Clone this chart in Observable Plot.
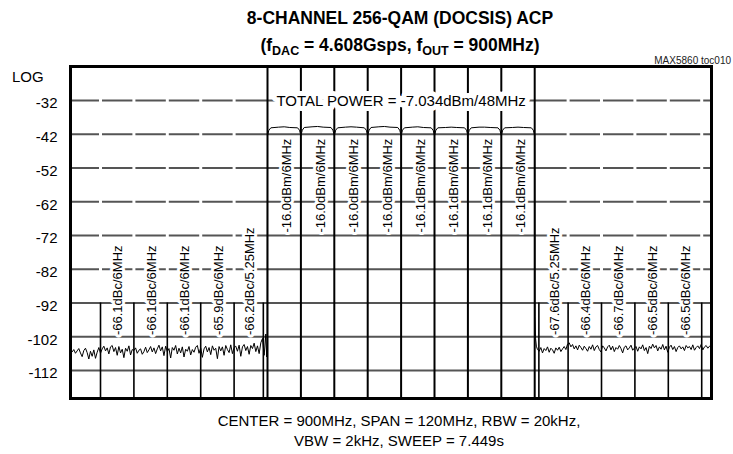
<!DOCTYPE html>
<html><head><meta charset="utf-8">
<script src="https://cdn.jsdelivr.net/npm/d3@7"></script>
<script src="https://cdn.jsdelivr.net/npm/@observablehq/plot@0.6"></script>
<style>
body{margin:0;background:#fff;font-family:"Liberation Sans",Arial,sans-serif;color:#000;}
#wrap{position:relative;width:733px;height:454px;overflow:hidden;}
#wrap svg{position:absolute;left:0;top:0;}
.abs{position:absolute;white-space:nowrap;}
.title{left:0;width:800px;text-align:center;font-weight:bold;font-size:17.5px;line-height:22px;}
.title sub{font-size:12.5px;vertical-align:-4px;line-height:0;}
.cap{left:0;width:798px;text-align:center;font-size:15px;line-height:20px;}
</style></head><body>
<div id="wrap">
  <div class="abs title" style="top:7px">8-CHANNEL 256-QAM (DOCSIS) ACP</div>
  <div class="abs title" style="top:34px">(f<sub>DAC</sub> = 4.608Gsps, f<sub>OUT</sub> = 900MHz)</div>
  <div class="abs" style="right:2px;top:55px;font-size:10px;color:#222;">MAX5860 toc010</div>
  <div class="abs" style="left:12px;top:68px;font-size:15px;line-height:18px;">LOG</div>
  <div class="abs cap" style="top:411px">CENTER = 900MHz, SPAN = 120MHz, RBW = 20kHz,<br>VBW = 2kHz, SWEEP = 7.449s</div>
</div>
<script>
// ---- data ----
const gridLevels = [-32, -42, -52, -62, -72, -82, -92, -102, -112];
const mainEdges = [876, 882, 888, 894, 900, 906, 912, 918, 924];
const chanCenters = [879, 885, 891, 897, 903, 909, 915, 921];
const chanLabels = ["-16.0dBm/6MHz","-16.0dBm/6MHz","-16.0dBm/6MHz","-16.0dBm/6MHz",
                    "-16.1dBm/6MHz","-16.1dBm/6MHz","-16.1dBm/6MHz","-16.1dBm/6MHz"];
const adjEdges = [846, 852, 858, 864, 870, 875.25, 924.75, 930, 936, 942, 948, 954];
const gapEdges = [846, 852, 858, 864, 870, 930, 936, 942, 948, 954];
const adjCenters = [849, 855, 861, 867, 872.625, 927.375, 933, 939, 945, 951];
const adjLabels = ["-66.1dBc/6MHz","-66.1dBc/6MHz","-66.1dBc/6MHz","-65.9dBc/6MHz","-66.2dBc/5.25MHz",
                   "-67.6dBc/5.25MHz","-66.4dBc/6MHz","-66.7dBc/6MHz","-66.5dBc/6MHz","-66.5dBc/6MHz"];
const totalPower = ["TOTAL POWER = -7.034dBm/48MHz"];

// noise floor, left of the carriers: start 840.6 MHz, every 0.3 MHz
const leftNoiseStart = 840.6, noiseStep = 0.3;
const leftNoise = [
-106.0,-106.5,-105.8,-106.9,-106.2,-105.5,-106.8,-107.9,-106.1,-105.4,
-106.7,-108.6,-106.3,-107.8,-105.9,-108.4,-106.6,-105.2,-106.9,-105.6,
-104.8,-106.2,-105.3,-107.1,-105.0,-104.6,-106.4,-105.2,-107.5,-104.9,
-106.8,-105.7,-108.2,-105.4,-106.3,-104.7,-107.4,-105.8,-106.1,-105.3,
-106.9,-106.0,-105.6,-107.2,-106.4,-105.1,-106.7,-105.9,-104.9,-106.5,
-105.3,-107.0,-105.6,-104.5,-106.2,-105.0,-107.6,-104.8,-106.4,-105.5,
-108.3,-105.2,-106.0,-104.6,-107.1,-105.4,-106.8,-105.0,-108.0,-105.7,
-106.3,-104.9,-107.4,-105.8,-106.6,-105.1,-104.6,-106.9,-105.3,-108.1,
-105.6,-104.8,-106.5,-105.2,-107.3,-104.7,-106.0,-105.4,-108.5,-104.9,
-106.2,-105.0,-107.5,-104.6,-105.8,-106.7,-104.4,-107.0,-105.2,-104.8,
-106.3,-104.5,-107.8,-105.0,-104.3,-106.1,-104.9,-107.2,-104.6,-105.5,
-103.9,-106.4,-104.7,-107.0,-103.8,-102.5,-107.5,-101.2];
// carrier block trace [MHz, dB]
const mainTrace = [
[875.85,-108.0],[875.95,-103.5],
[876.0,-42.3],[876.25,-40.8],[876.6,-40.1],[878,-39.9],[879,-39.8],[880,-40.0],[881.4,-40.1],[881.75,-40.8],
[882.0,-42.3],[882.25,-40.8],[882.6,-40.0],[884,-39.8],[885,-39.7],[886,-39.9],[887.4,-40.0],[887.75,-40.8],
[888.0,-42.3],[888.25,-40.8],[888.6,-40.1],[890,-39.9],[891,-39.8],[892,-39.9],[893.4,-40.1],[893.75,-40.8],
[894.0,-42.3],[894.25,-40.8],[894.6,-40.0],[896,-39.8],[897,-39.7],[898,-39.9],[899.4,-40.0],[899.75,-40.8],
[900.0,-42.3],[900.25,-40.8],[900.6,-40.1],[902,-39.9],[903,-39.8],[904,-40.0],[905.4,-40.1],[905.75,-40.8],
[906.0,-42.3],[906.25,-40.8],[906.6,-40.1],[908,-40.0],[909,-39.9],[910,-40.0],[911.4,-40.1],[911.75,-40.8],
[912.0,-42.3],[912.25,-40.8],[912.6,-40.1],[914,-39.9],[915,-39.9],[916,-40.0],[917.4,-40.1],[917.75,-40.8],
[918.0,-42.3],[918.25,-40.8],[918.6,-40.1],[920,-40.0],[921,-39.9],[922,-40.0],[923.4,-40.1],[923.75,-40.8],
[924.0,-42.3],[924.05,-96.0],[924.15,-102.5],[924.3,-104.8]];
// noise floor, right of the carriers: start 924.5 MHz, every 0.3 MHz
const rightNoiseStart = 924.5;
const rightNoise = [
-105.8,-106.3,-105.2,-106.8,-105.5,-106.1,-105.0,-106.6,-105.4,-105.9,
-106.9,-105.3,-106.0,-105.1,-106.4,-105.6,-104.9,-105.8,-104.2,-103.8,
-105.0,-104.3,-105.6,-104.7,-105.9,-104.5,-105.2,-106.0,-104.8,-105.5,
-106.3,-104.9,-105.7,-104.4,-106.1,-105.0,-104.6,-105.8,-106.5,-104.7,
-105.3,-106.2,-105.0,-104.5,-105.9,-104.8,-106.4,-105.2,-105.7,-104.6,
-105.5,-106.8,-105.1,-104.7,-105.9,-105.3,-104.5,-106.0,-105.4,-104.9,
-106.3,-105.0,-105.6,-104.4,-106.1,-105.2,-107.0,-104.8,-105.5,-104.2,
-105.3,-104.6,-106.2,-105.0,-105.7,-104.3,-105.9,-104.8,-106.6,-105.1,
-104.5,-105.8,-104.9,-106.4,-105.2,-104.7,-105.6,-105.0,-106.1,-104.6,
-105.3,-104.9,-105.8,-104.4,-106.0,-105.2,-104.7,-105.5,-104.3,-105.9,
-105.0,-104.6,-105.4,-104.8,-105.2];

// ---- build trace table ----
const trace = [
  ...leftNoise.map((v, i) => ({f: leftNoiseStart + i * noiseStep, db: v})),
  ...mainTrace.map(([f, db]) => ({f, db})),
  ...rightNoise.map((v, i) => ({f: rightNoiseStart + i * noiseStep, db: v}))
];
const chanTable = chanCenters.map((c, i) => ({c, t: chanLabels[i]}));
const adjTable = adjCenters.map((c, i) => ({c, t: adjLabels[i]}));

const xDom = [840.61, 955.76], yDom = [-120.3, -21.93];
const font = "Liberation Sans, Arial, sans-serif";

const chart = Plot.plot({
  width: 733, height: 454,
  marginLeft: 70, marginRight: 22, marginTop: 66, marginBottom: 56,
  style: {fontFamily: font, background: "transparent", color: "#000"},
  x: {domain: xDom, axis: null},
  y: {domain: yDom},
  marks: [
    Plot.ruleY(gridLevels, {stroke: "#555", strokeWidth: 2}),
    Plot.ruleX(gapEdges, {y1: -91.2, y2: yDom[1], stroke: "white", strokeWidth: 3}),
    Plot.ruleX(adjEdges, {y1: -92, y2: yDom[0], stroke: "#000", strokeWidth: 1.6}),
    Plot.ruleX(mainEdges, {stroke: "#000", strokeWidth: 2}),
    Plot.line(trace, {x: "f", y: "db", stroke: "#000", strokeWidth: 1}),
    Plot.text(chanTable, {x: "c", y: -43.3, text: "t", rotate: -90, textAnchor: "end", lineAnchor: "middle",
      dx: 3, fontSize: 13, fill: "#000", stroke: "white", strokeWidth: 6}),
    Plot.text(adjTable, {x: "c", y: -101.5, text: "t", rotate: -90, textAnchor: "start", lineAnchor: "middle",
      dx: 1, fontSize: 13, fill: "#000", stroke: "white", strokeWidth: 6}),
    Plot.text(totalPower, {x: 900, y: -32, text: d => d, fontSize: 15, dy: 1, fill: "#000", stroke: "white", strokeWidth: 10}),
    Plot.axisY({ticks: gridLevels, tickSize: 0, tickPadding: 13, fontSize: 15, dy: 3, label: null, tickFormat: d => String(d)}),
    Plot.frame({stroke: "#000", strokeWidth: 3})
  ]
});
document.getElementById("wrap").prepend(chart);
</script>
</body></html>
